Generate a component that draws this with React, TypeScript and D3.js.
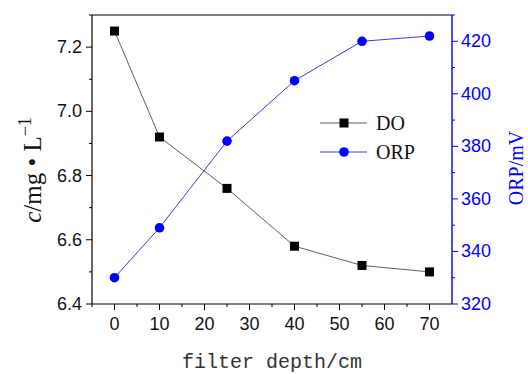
import React from "react";
import * as d3 from "d3";

// filter depth (cm) and measured values
const depth = [0, 10, 25, 40, 55, 70];
const doValues = [7.25, 6.92, 6.76, 6.58, 6.52, 6.5];
const orpValues = [330, 349, 382, 405, 420, 422];

const xTicks = [0, 10, 20, 30, 40, 50, 60, 70];
const leftTicks = [6.4, 6.6, 6.8, 7.0, 7.2];
const rightTicks = [320, 340, 360, 380, 400, 420];

const W = 528;
const H = 374;
const m = { left: 92, right: 452, top: 15, bottom: 304 };
const BLUE = "#0000ff";

function App() {
  const x = d3.scaleLinear().domain([-5, 75]).range([m.left, m.right]);
  const yL = d3.scaleLinear().domain([6.4, 7.3]).range([m.bottom, m.top]);
  const yR = d3.scaleLinear().domain([320, 430]).range([m.bottom, m.top]);

  const doLine = d3
    .line<number>()
    .x((_, i) => x(depth[i]))
    .y((d) => yL(d));
  const orpLine = d3
    .line<number>()
    .x((_, i) => x(depth[i]))
    .y((d) => yR(d));

  // minor ticks halfway between majors
  const xMinor = xTicks.slice(0, -1).map((t) => t + 5).concat([-5]);
  const leftMinor = leftTicks.map((t) => t + 0.1).filter((t) => t <= 7.3);
  const rightMinor = rightTicks.map((t) => t + 10).filter((t) => t <= 430);

  const numFont = "'Liberation Sans', Arial, sans-serif";
  const serif = "'Liberation Serif', 'Times New Roman', serif";

  return (
    <svg
      width={W}
      height={H}
      style={{ position: "absolute", left: 0, top: 0, background: "#fff" }}
    >
      {/* frame */}
      <line x1={m.left} x2={m.right} y1={m.top} y2={m.top} stroke="#000" strokeWidth={1.2} />
      <line x1={m.left} x2={m.left} y1={m.top} y2={m.bottom} stroke="#000" strokeWidth={1.2} />
      <line x1={m.left} x2={m.right} y1={m.bottom} y2={m.bottom} stroke="#000" strokeWidth={1.2} />
      <line x1={m.right} x2={m.right} y1={m.top} y2={m.bottom} stroke={BLUE} strokeWidth={1.4} />

      {/* bottom axis */}
      {xTicks.map((t) => (
        <g key={"xt" + t}>
          <line x1={x(t)} x2={x(t)} y1={m.bottom} y2={m.bottom + 6} stroke="#000" />
          <text
            x={x(t)}
            y={m.bottom + 26}
            textAnchor="middle"
            fontFamily={numFont}
            fontSize={18}
            fill="#111"
          >
            {t}
          </text>
        </g>
      ))}
      {xMinor.map((t) => (
        <line key={"xm" + t} x1={x(t)} x2={x(t)} y1={m.bottom} y2={m.bottom + 3} stroke="#000" />
      ))}

      {/* left axis */}
      {leftTicks.map((t) => (
        <g key={"lt" + t}>
          <line x1={m.left - 6} x2={m.left} y1={yL(t)} y2={yL(t)} stroke="#000" />
          <text
            x={m.left - 10}
            y={yL(t) + 6}
            textAnchor="end"
            fontFamily={numFont}
            fontSize={18}
            fill="#111"
          >
            {t.toFixed(1)}
          </text>
        </g>
      ))}
      {leftMinor.map((t) => (
        <line key={"lm" + t} x1={m.left - 3} x2={m.left} y1={yL(t)} y2={yL(t)} stroke="#000" />
      ))}

      {/* right axis */}
      {rightTicks.map((t) => (
        <g key={"rt" + t}>
          <line x1={m.right} x2={m.right + 6} y1={yR(t)} y2={yR(t)} stroke={BLUE} />
          <text
            x={m.right + 9}
            y={yR(t) + 6}
            textAnchor="start"
            fontFamily={numFont}
            fontSize={18}
            fill={BLUE}
          >
            {t}
          </text>
        </g>
      ))}
      {rightMinor.map((t) => (
        <line key={"rm" + t} x1={m.right} x2={m.right + 3} y1={yR(t)} y2={yR(t)} stroke={BLUE} />
      ))}

      {/* series */}
      <path d={doLine(doValues) || ""} fill="none" stroke="#333" strokeWidth={0.8} />
      <path d={orpLine(orpValues) || ""} fill="none" stroke={BLUE} strokeWidth={0.8} />
      {doValues.map((v, i) => (
        <rect
          key={"d" + i}
          x={x(depth[i]) - 4.5}
          y={yL(v) - 4.5}
          width={9}
          height={9}
          fill="#000"
        />
      ))}
      {orpValues.map((v, i) => (
        <circle key={"o" + i} cx={x(depth[i])} cy={yR(v)} r={4.8} fill={BLUE} />
      ))}

      {/* legend */}
      <g>
        <line x1={320} x2={367} y1={123} y2={123} stroke="#333" strokeWidth={0.8} />
        <rect x={339.5} y={118.5} width={9} height={9} fill="#000" />
        <text x={376} y={130} fontFamily={serif} fontSize={20} fill="#111">
          DO
        </text>
        <line x1={320} x2={367} y1={152} y2={152} stroke={BLUE} strokeWidth={0.8} />
        <circle cx={344} cy={152} r={4.8} fill={BLUE} />
        <text x={376} y={159} fontFamily={serif} fontSize={20} fill="#111">
          ORP
        </text>
      </g>

      {/* axis titles */}
      <text
        x={272}
        y={368}
        textAnchor="middle"
        fontFamily="'Liberation Mono', 'DejaVu Sans Mono', monospace"
        fontSize={20}
        fill="#333"
      >
        filter depth/cm
      </text>
      <text
        transform={`translate(41, 170) rotate(-90)`}
        textAnchor="middle"
        fontFamily={serif}
        fontSize={25}
        fill="#111"
      >
        <tspan fontStyle="italic">c</tspan>/mg • L
        <tspan dy={-10} fontSize={18}>
          −1
        </tspan>
      </text>
      <text
        transform={`translate(523, 168) rotate(-90)`}
        textAnchor="middle"
        fontFamily={serif}
        fontSize={20}
        fill={BLUE}
      >
        ORP/mV
      </text>
    </svg>
  );
}

export default App;
